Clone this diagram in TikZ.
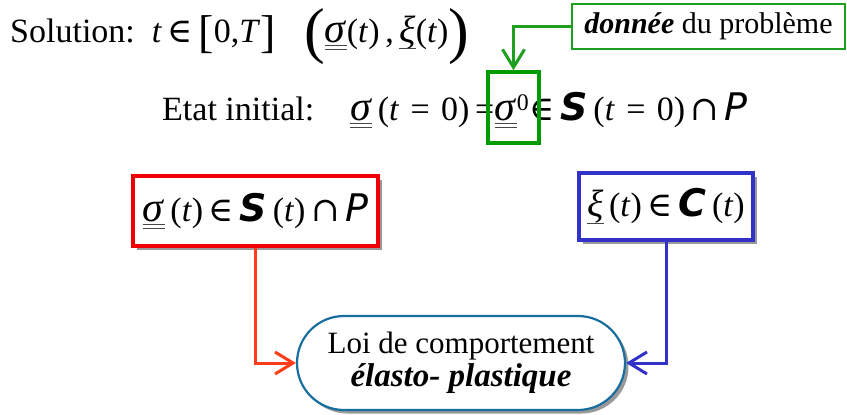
\documentclass[tikz,border=0pt]{standalone}
\usepackage{fontspec}
\setmainfont{Liberation Serif}
\newfontfamily\scrfont{DejaVu Sans}
\newfontfamily\symfont{DejaVu Serif}
\usetikzlibrary{arrows.meta,shapes.misc,shadows}
\definecolor{grn}{RGB}{0,155,0}
\definecolor{grnl}{RGB}{30,160,30}
\definecolor{redb}{RGB}{240,0,0}
\definecolor{redl}{RGB}{255,60,25}
\definecolor{blub}{RGB}{50,50,200}
\definecolor{ovc}{RGB}{25,110,160}
\definecolor{ulc}{RGB}{70,70,70}
\newcommand{\ti}{\textit{t}}
\newcommand{\dsig}{\leavevmode\vtop{\hbox{\fontsize{42}{42}\selectfont\textit{σ}}\kern2.5pt{\color{ulc}\hrule height 1.1pt\kern2.6pt\hrule height 1.1pt}}}
\newcommand{\uxi}{\leavevmode\vtop{\hbox{\fontsize{38}{38}\selectfont\textit{ξ}}\kern-1pt{\color{ulc}\hrule height 1.1pt}}}
\newcommand{\scS}{{\fontsize{38}{40}\selectfont\scrfont\bfseries\itshape S}}
\newcommand{\scC}{{\fontsize{38}{40}\selectfont\scrfont\bfseries\itshape C}}
\newcommand{\scP}{{\fontsize{38}{40}\selectfont\scrfont\itshape P}}
\newcommand{\elt}{{\symfont ∈}}
\newcommand{\cp}{{\symfont ∩}}
\newcommand{\bigbr}[1]{\raisebox{-5pt}{\fontsize{46}{46}\selectfont #1}}
\newcommand{\bigpa}[1]{\raisebox{-9pt}{\fontsize{62}{62}\selectfont #1}}
\tikzset{
  txt/.style={inner sep=0pt, font=\fontsize{34}{40}\selectfont},
  boxnode/.style={fill=white, line width=3.5pt, inner sep=0pt,
    font=\fontsize{34}{40}\selectfont,
    drop shadow={shadow xshift=3.5pt, shadow yshift=-3.5pt, fill=gray!80, opacity=1}},
  conn/.style={line width=3pt, -{Straight Barb[length=18pt,width=22pt,line width=3pt]}}
}
\begin{document}
\begin{tikzpicture}[x=1pt,y=-1pt]
\useasboundingbox (0,0) rectangle (847,415);
% Solution line
\node[txt, anchor=base west] (sol) at (10,42)
  {Solution:\, \ti\,\elt\,\bigbr{[}0,\textit{T}\bigbr{]}};
\node[txt, anchor=base west] (solb) at (304,42)
  {\bigpa{(}\dsig(\ti)\,,\,\uxi(\ti)\bigpa{)}};
% donnee box
\node[draw=grnl, line width=1.3pt, minimum width=273, minimum height=45,
  inner sep=0pt, font=\fontsize{30}{36}\selectfont] (dn) at (708.5,26.5)
  {\textbf{\textit{donnée}} du problème};
% Etat initial
\node[txt, anchor=base west] (et) at (162,120) {Etat initial:};
\node[txt, anchor=base] (e2) at (512,120) {\dsig\textsuperscript{0}};
\node[txt, anchor=base east] (e1) at (e2.base west) {\dsig\,(\ti\,\,=\,\,0)\,=};
\node[txt, anchor=base west] (e3) at (e2.base east) {\elt\,\scS\,(\ti\,\,=\,\,0)\,\cp\,\scP};
\node[draw=grn, line width=3.5pt, minimum width=51, minimum height=71, inner sep=0pt] (g0) at (513.5,107.5) {};
\draw[grnl, conn] (dn.west) -| (g0.north);
% boxes
\node[boxnode, draw=redb, minimum width=245, minimum height=70] (rb) at (255.5,211)
  {\dsig\,(\ti)\,\elt\,\scS\,(\ti)\,\cp\,\scP};
\node[boxnode, draw=blub, minimum width=174, minimum height=67] (bb) at (666,206.5)
  {\uxi\,(\ti)\,\elt\,\scC\,(\ti)};
% oval
\node[rounded rectangle, draw=ovc, line width=2.2pt, fill=white, minimum width=328,
  minimum height=94, inner sep=0pt, align=center,
  font=\fontsize{31}{33}\selectfont,
  drop shadow={shadow xshift=3.5pt, shadow yshift=-3.5pt, fill=gray!80, opacity=1}]
  (ov) at (461,363) {Loi de comportement\\{\fontsize{33}{33}\selectfont\textbf{\textit{élasto- plastique}}}};
\draw[redl, conn] (rb.south) |- (ov.west);
\draw[blub, conn] (bb.south) |- (ov.east);
\end{tikzpicture}
\end{document}
